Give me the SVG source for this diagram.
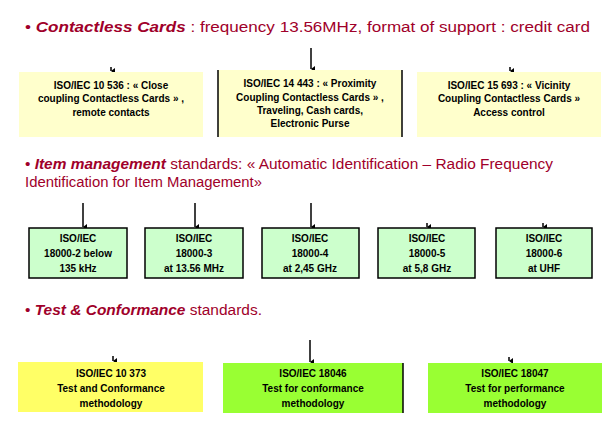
<svg xmlns="http://www.w3.org/2000/svg" width="603" height="424" viewBox="0 0 603 424">
<style>
.h{font-family:"Liberation Sans",Arial,sans-serif;font-size:14px;fill:#A0002A}
.hb{font-weight:bold;font-style:italic}
.t{font-family:"Liberation Sans",Arial,sans-serif;font-size:10px;font-weight:bold;fill:#000;text-anchor:middle}
.c{stroke:#000;stroke-width:1.5;fill:none}
.y1{fill:#FFFFCC}
.g1{fill:#CCFFCC;stroke:#000;stroke-width:1.5}
.y2{fill:#FFFF66}
.g2{fill:#99FF33}
</style>
<defs>
<marker id="a" markerWidth="6" markerHeight="6" refX="3" refY="5" orient="auto" markerUnits="userSpaceOnUse">
<path d="M0,1 L3,5 L6,1" fill="#000"/>
</marker>
</defs>
<rect width="603" height="424" fill="#fff"/>
<g id="header1"><text class="h" x="25" y="32" textLength="565" lengthAdjust="spacingAndGlyphs">• <tspan class="hb">Contactless Cards</tspan> : frequency 13.56MHz, format of support : credit card</text></g>
<g id="header2"><text class="h" x="25" y="169" textLength="528" lengthAdjust="spacingAndGlyphs">• <tspan class="hb">Item management</tspan> standards: « Automatic Identification – Radio Frequency</text>
<text class="h" x="25" y="187" textLength="237" lengthAdjust="spacingAndGlyphs">Identification for Item Management»</text></g>
<g id="header3"><text class="h" x="25" y="315" textLength="237" lengthAdjust="spacingAndGlyphs">• <tspan class="hb">Test &amp; Conformance</tspan> standards.</text></g>
<g id="connectors">
<line class="c" x1="311" y1="48" x2="311" y2="69" marker-end="url(#a)"/>
<line class="c" x1="111" y1="67" x2="111" y2="71" marker-end="url(#a)"/>
<line class="c" x1="510" y1="67" x2="510" y2="71" marker-end="url(#a)"/>
<line class="c" x1="83" y1="203" x2="83" y2="227" marker-end="url(#a)"/>
<line class="c" x1="195" y1="203" x2="195" y2="227" marker-end="url(#a)"/>
<line class="c" x1="311" y1="203" x2="311" y2="227" marker-end="url(#a)"/>
<line class="c" x1="427" y1="223" x2="427" y2="227" marker-end="url(#a)"/>
<line class="c" x1="543" y1="223" x2="543" y2="227" marker-end="url(#a)"/>
<line class="c" x1="113" y1="356" x2="113" y2="361" marker-end="url(#a)"/>
<line class="c" x1="310" y1="340" x2="310" y2="362" marker-end="url(#a)"/>
<line class="c" x1="509" y1="357" x2="509" y2="361" marker-end="url(#a)"/>
</g>
<g id="iso10536"><rect class="y1" x="19" y="72" width="184" height="65"/>
<text class="t" x="111" y="89">ISO/IEC 10 536 : « Close</text>
<text class="t" x="111" y="102">coupling Contactless Cards » ,</text>
<text class="t" x="111" y="116">remote contacts</text></g>
<g id="iso14443"><rect class="y1" x="218" y="70" width="184" height="67"/>
<line x1="218" y1="70" x2="218" y2="137" stroke="#000" stroke-width="1.5"/>
<line x1="402" y1="70" x2="402" y2="137" stroke="#000" stroke-width="1.5"/>
<text class="t" x="310" y="87">ISO/IEC 14 443 : « Proximity</text>
<text class="t" x="310" y="101">Coupling Contactless Cards » ,</text>
<text class="t" x="310" y="114">Traveling, Cash cards,</text>
<text class="t" x="310" y="127">Electronic Purse</text></g>
<g id="iso15693"><rect class="y1" x="417" y="72" width="184" height="65"/>
<text class="t" x="509" y="89">ISO/IEC 15 693 : « Vicinity</text>
<text class="t" x="509" y="102">Coupling Contactless Cards »</text>
<text class="t" x="509" y="116">Access control</text></g>
<g id="iso18000-2"><rect class="g1" x="29" y="228" width="98" height="50"/>
<text class="t" x="78" y="242">ISO/IEC</text><text class="t" x="78" y="257">18000-2 below</text><text class="t" x="78" y="272">135 kHz</text></g>
<g id="iso18000-3"><rect class="g1" x="145" y="228" width="98" height="50"/>
<text class="t" x="194" y="242">ISO/IEC</text><text class="t" x="194" y="257">18000-3</text><text class="t" x="194" y="272">at 13.56 MHz</text></g>
<g id="iso18000-4"><rect class="g1" x="262" y="228" width="97" height="50"/>
<text class="t" x="310" y="242">ISO/IEC</text><text class="t" x="310" y="257">18000-4</text><text class="t" x="310" y="272">at 2,45 GHz</text></g>
<g id="iso18000-5"><rect class="g1" x="378" y="228" width="97" height="50"/>
<text class="t" x="427" y="242">ISO/IEC</text><text class="t" x="427" y="257">18000-5</text><text class="t" x="427" y="272">at 5,8 GHz</text></g>
<g id="iso18000-6"><rect class="g1" x="496" y="228" width="96" height="50"/>
<text class="t" x="544" y="242">ISO/IEC</text><text class="t" x="544" y="257">18000-6</text><text class="t" x="544" y="272">at UHF</text></g>
<g id="iso10373"><rect class="y2" x="18" y="362" width="185" height="50"/>
<text class="t" x="111" y="377">ISO/IEC 10 373</text><text class="t" x="111" y="392">Test and Conformance</text><text class="t" x="111" y="407">methodology</text></g>
<g id="iso18046"><rect class="g2" x="223" y="363" width="180" height="50"/>
<line x1="403" y1="363" x2="403" y2="413" stroke="#000" stroke-width="1.5"/>
<text class="t" x="313" y="377">ISO/IEC 18046</text><text class="t" x="313" y="392">Test for conformance</text><text class="t" x="313" y="407">methodology</text></g>
<g id="iso18047"><rect class="g2" x="428" y="363" width="174" height="50"/>
<text class="t" x="515" y="377">ISO/IEC 18047</text><text class="t" x="515" y="392">Test for performance</text><text class="t" x="515" y="407">methodology</text></g>
</svg>
